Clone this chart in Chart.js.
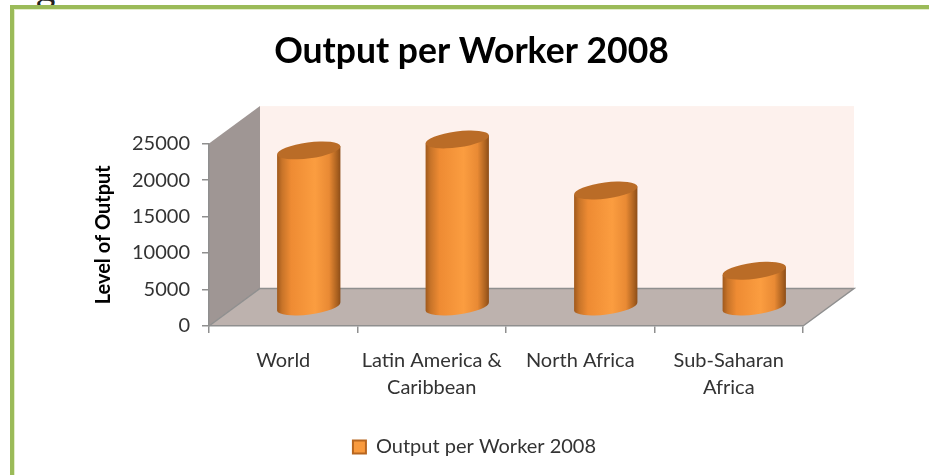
<!DOCTYPE html>
<html>
<head>
<meta charset="utf-8">
<title>Output per Worker 2008</title>
<script src="https://cdn.jsdelivr.net/npm/chart.js@4/dist/chart.umd.min.js"></script>
<style>
    html, body { margin: 0; padding: 0; width: 929px; height: 475px; overflow: hidden; background: #fff; }
    /* tail of the heading above the panel, cut by the page edge */
    #headingTail { position: absolute; left: 36px; top: -36px; font: 38px Lato, sans-serif; color: #222; }
    #panel {
        position: absolute; left: 10px; top: 5px; width: 919px; height: 470px;
        border-left: 4px solid #9bbb59; border-top: 4px solid #9bbb59;
        box-shadow: inset 1px 1px 0 #e3eecb; background: #fff;
    }
</style>
</head>
<body>
<div id="headingTail">g</div>
<div id="panel"><canvas id="outputChart" width="915" height="466"></canvas></div>
<script>
// Output per worker by region
const categories = ['World', ['Latin America &', 'Caribbean'], 'North Africa', ['Sub-Saharan', 'Africa']];
const outputValues = [21500, 23000, 16000, 5000];
const seriesName = 'Output per Worker 2008';
const yMax = 25000;
const yStep = 5000;

// depth of the 3D box
const DEPTH_X = 51;
const DEPTH_Y = 37.5;
const TILT = -0.13;
const CAP_RADIUS = 8;

const FONT = 'Lato, sans-serif';
const TEXT = '#333333';
const AXIS = '#8f8f8f';

function drawCylinder(ctx, bar) {
    const { x, y, base, width } = bar.getProps(['x', 'y', 'base', 'width'], true);
    const cx = x + DEPTH_X / 2;
    const topY = y - DEPTH_Y / 2;
    const baseY = base - DEPTH_Y / 2;
    const r = width / 2;
    const ex = r * Math.cos(TILT);
    const ey = r * Math.sin(TILT);

    const side = ctx.createLinearGradient(cx - ex, 0, cx + ex, 0);
    side.addColorStop(0, '#a0591c');
    side.addColorStop(0.08, '#c87429');
    side.addColorStop(0.22, '#ee8b33');
    side.addColorStop(0.6, '#fb9d40');
    side.addColorStop(0.82, '#e98a34');
    side.addColorStop(0.95, '#a9601f');
    side.addColorStop(1, '#8c4d18');

    ctx.save();
    ctx.beginPath();
    ctx.moveTo(cx + ex, topY + ey);
    ctx.lineTo(cx + ex, baseY + ey);
    ctx.ellipse(cx, baseY, r, CAP_RADIUS, TILT, 0, Math.PI);
    ctx.lineTo(cx - ex, topY - ey);
    ctx.closePath();
    ctx.fillStyle = side;
    ctx.fill();

    ctx.beginPath();
    ctx.ellipse(cx, topY, r, CAP_RADIUS, TILT, 0, Math.PI * 2);
    ctx.fillStyle = '#ba6c27';
    ctx.fill();
    ctx.restore();
}

// Bar controller that paints its bars as cylinders standing inside the box
class CylinderController extends Chart.BarController {
    static id = 'cylinder';
    static defaults = Chart.BarController.defaults;
    static overrides = Chart.BarController.overrides;

    draw() {
        const ctx = this.chart.ctx;
        this.getMeta().data.forEach(bar => drawCylinder(ctx, bar));
    }
}
Chart.register(CylinderController);

// Side wall, back wall and floor, set behind the axes
const boxWalls = {
    id: 'boxWalls',
    beforeInit(chart) {
        // empty box on the right: leaves room for the depth of the box
        // while the title and legend stay centred on the whole canvas
        Chart.layouts.addBox(chart, {
            position: 'right',
            options: {},
            isHorizontal() { return false; },
            update(maxWidth, maxHeight) { this.width = 126; this.height = maxHeight; },
            draw() {}
        });
    },
    afterLayout(chart) {
        chart.legend.left += 3;
        chart.legend.right += 3;
    },
    beforeDraw(chart) {
        const { ctx, chartArea: a } = chart;
        const backLeft = a.left + DEPTH_X;
        const backRight = a.right + DEPTH_X;
        const backTop = a.top - DEPTH_Y;
        const backBottom = a.bottom - DEPTH_Y;

        ctx.save();
        ctx.fillStyle = '#fdf1ed';
        ctx.fillRect(backLeft, backTop, backRight - backLeft, backBottom - backTop);

        ctx.fillStyle = '#9f9694';
        ctx.beginPath();
        ctx.moveTo(a.left, a.top);
        ctx.lineTo(backLeft, backTop);
        ctx.lineTo(backLeft, backBottom);
        ctx.lineTo(a.left, a.bottom);
        ctx.closePath();
        ctx.fill();

        ctx.fillStyle = '#bdb2ae';
        ctx.beginPath();
        ctx.moveTo(a.left, a.bottom);
        ctx.lineTo(backLeft, backBottom);
        ctx.lineTo(backRight, backBottom);
        ctx.lineTo(a.right, a.bottom);
        ctx.closePath();
        ctx.fill();

        ctx.strokeStyle = AXIS;
        ctx.lineWidth = 1.5;
        ctx.beginPath();
        ctx.moveTo(a.left, a.bottom);
        ctx.lineTo(backLeft, backBottom);
        ctx.lineTo(backRight, backBottom);
        ctx.lineTo(a.right, a.bottom);
        ctx.stroke();
        ctx.restore();
    }
};

new Chart(document.getElementById('outputChart'), {
    type: 'cylinder',
    plugins: [boxWalls],
    data: {
        labels: categories,
        datasets: [{
            label: seriesName,
            data: outputValues,
            backgroundColor: '#f99a3d',
            borderColor: '#b8661f',
            borderWidth: 2,
            categoryPercentage: 1,
            barPercentage: 0.43,
            clip: false
        }]
    },
    options: {
        responsive: false,
        animation: false,
        layout: { padding: { left: 0, right: 0, top: 0, bottom: 8 } },
        plugins: {
            tooltip: { enabled: false },
            title: {
                display: true,
                text: seriesName,
                color: '#000000',
                font: { family: FONT, size: 35.5, weight: 'bold' },
                padding: { top: 21, bottom: 71 }
            },
            legend: {
                position: 'bottom',
                labels: {
                    color: TEXT,
                    font: { family: FONT, size: 20 },
                    boxWidth: 13,
                    boxHeight: 13,
                    padding: 6
                }
            }
        },
        scales: {
            x: {
                afterFit(scale) { scale.height = 105; },
                grid: { drawOnChartArea: false, color: AXIS, lineWidth: 1.5, tickLength: 7 },
                border: { color: AXIS, width: 1.5 },
                ticks: {
                    color: TEXT,
                    font: { family: FONT, size: 20, lineHeight: 1.35 },
                    padding: 14,
                    maxRotation: 0,
                    autoSkip: false
                }
            },
            y: {
                min: 0,
                max: yMax,
                afterFit(scale) { scale.width = 195; },
                title: {
                    display: true,
                    text: 'Level of Output',
                    color: '#000000',
                    font: { family: FONT, size: 20, weight: 'bold' },
                    padding: { top: 78, bottom: 0 }
                },
                grid: { drawOnChartArea: false, color: AXIS, lineWidth: 1.5, tickLength: 7 },
                border: { color: AXIS, width: 1.5 },
                ticks: {
                    stepSize: yStep,
                    color: TEXT,
                    font: { family: FONT, size: 20 },
                    padding: 12,
                    callback: value => String(value)
                }
            }
        }
    }
});
</script>
</body>
</html>
